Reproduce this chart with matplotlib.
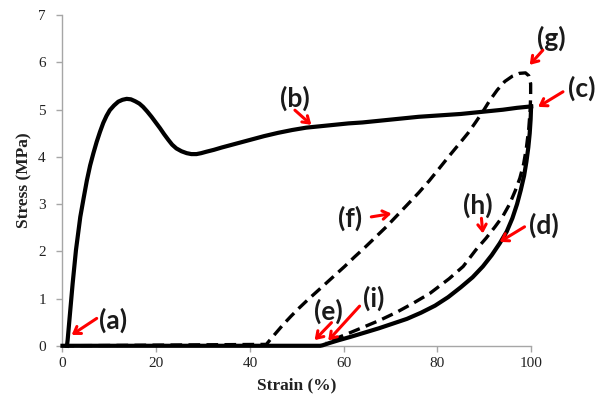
import matplotlib
matplotlib.use("Agg")
import matplotlib.pyplot as plt

# ---- data ----
# cycle 1 loading (solid)
load1_x = [0.95, 1.1, 1.67, 2.17, 2.88, 3.8, 4.5, 5.2, 5.9, 6.6, 7.3, 8.0, 8.7, 9.4, 10.1,
           11.0, 11.9, 12.8, 13.7, 14.6, 15.5, 16.4, 17.2, 18.1, 19.0, 19.9, 20.8, 21.7,
           22.6, 23.4, 24.3, 25.4, 26.5, 27.5, 28.6, 29.6, 30.7, 32.3, 34.0, 37.0, 40.0,
           43.0, 46.0, 49.0, 52.0, 55.0, 58.0, 61.0, 64.0, 67.0, 70.0, 73.0, 76.0, 79.0,
           82.0, 85.0, 88.0, 91.0, 94.0, 97.0, 100.0]
load1_y = [0.0, 0.12, 0.76, 1.32, 2.03, 2.73, 3.12, 3.5, 3.82, 4.08, 4.32, 4.53, 4.72, 4.87,
           4.99, 5.09, 5.17, 5.21, 5.23, 5.22, 5.18, 5.13, 5.06, 4.96, 4.85, 4.73, 4.61,
           4.48, 4.36, 4.26, 4.18, 4.12, 4.08, 4.06, 4.06, 4.08, 4.11, 4.15, 4.2, 4.28,
           4.36, 4.44, 4.51, 4.57, 4.62, 4.65, 4.68, 4.71, 4.73, 4.76, 4.79, 4.82, 4.85,
           4.87, 4.89, 4.91, 4.94, 4.97, 5.0, 5.04, 5.07]
# cycle 1 unloading (solid)
unload1_x = [100.0, 99.9, 99.7, 99.4, 99.0, 98.5, 97.8, 97.0, 96.0, 94.8, 93.3, 91.6, 89.7,
             87.5, 85.0, 82.3, 79.5, 76.5, 73.5, 70.5, 67.5, 64.5, 61.5, 59.0, 57.0, 55.5,
             55.0, 0.0]
unload1_y = [5.07, 4.8, 4.5, 4.2, 3.9, 3.6, 3.3, 3.0, 2.7, 2.42, 2.17, 1.92, 1.68,
             1.45, 1.24, 1.03, 0.85, 0.70, 0.57, 0.47, 0.37, 0.28, 0.19, 0.12, 0.06, 0.01,
             0.0, 0.0]
# cycle 2 (dashed): loading then unloading
cyc2_x = [0.0, 43.5, 44.5, 45.8, 47.1, 48.8, 50.5, 52.3, 54.2, 56.2, 58.2, 60.2, 62.3,
          64.5, 66.8, 69.1, 71.4, 73.7, 76.0, 78.3, 80.5, 82.6, 84.6, 86.5, 88.2, 89.7,
          91.2, 92.8, 94.4, 96.0, 97.5, 98.8, 99.5, 99.9, 99.9, 99.8, 99.5, 99.0, 98.4,
          97.6, 96.6, 95.4, 94.0, 92.3, 90.4, 88.2, 85.5, 82.5, 78.4, 74.8, 71.3, 67.7,
          64.1, 61.2, 58.5, 56.3]
cyc2_y = [0.0, 0.03, 0.15, 0.3, 0.45, 0.63, 0.8, 0.97, 1.14, 1.32, 1.5, 1.68, 1.88,
          2.08, 2.3, 2.52, 2.76, 3.0, 3.24, 3.5, 3.77, 4.03, 4.27, 4.5, 4.74, 4.96,
          5.2, 5.42, 5.6, 5.71, 5.77, 5.78, 5.72, 5.55, 5.3, 5.0, 4.6, 4.2, 3.85,
          3.55, 3.28, 3.0, 2.75, 2.52, 2.28, 2.03, 1.68, 1.42, 1.11, 0.9, 0.71, 0.54,
          0.39, 0.27, 0.16, 0.06]

labels = ["(a)", "(b)", "(c)", "(d)", "(e)", "(f)", "(g)", "(h)", "(i)"]
label_x = [10.8, 49.6, 110.7, 102.7, 56.7, 61.4, 104.3, 88.7, 66.4]
label_y = [0.54, 5.24, 5.45, 2.56, 0.72, 2.70, 6.51, 2.98, 1.0]
arrow_tail_x = [7.3, 49.6, 106.8, 98.6, 57.4, 65.9, 102.5, 89.4, 63.4]
arrow_tail_y = [0.58, 4.99, 5.38, 2.52, 0.49, 2.73, 6.26, 2.70, 0.84]
arrow_head_x = [1.96, 53.1, 101.5, 93.3, 53.8, 70.2, 99.7, 89.7, 56.7]
arrow_head_y = [0.23, 4.68, 5.06, 2.20, 0.12, 2.80, 5.95, 2.38, 0.11]

x_ticks = [0, 20, 40, 60, 80, 100]
y_ticks = [0, 1, 2, 3, 4, 5, 6, 7]

# ---- figure ----
fig = plt.figure(figsize=(6.09, 3.97), dpi=100)
ax = fig.add_axes([0.1026, 0.129, 0.7695, 0.8325])

ax.plot(load1_x, load1_y, color="black", lw=3.0, clip_on=False, zorder=3,
        solid_joinstyle="round")
ax.plot(unload1_x, unload1_y, color="black", lw=3.0, clip_on=False, zorder=3,
        solid_joinstyle="round")
ax.plot(cyc2_x, cyc2_y, color="black", lw=2.4, ls=(0, (3.5, 1.9)), clip_on=False, zorder=4)

ax.set_xlim(0, 100)
ax.set_ylim(0, 7)
ax.set_xticks(x_ticks)
ax.set_yticks(y_ticks)

for s in ["top", "right"]:
    ax.spines[s].set_visible(False)
for s in ["left", "bottom"]:
    ax.spines[s].set_color("#a6a6a6")
    ax.spines[s].set_linewidth(1.0)

ax.tick_params(axis="both", direction="out", color="#a6a6a6", length=4, width=1,
               labelsize=11, labelcolor="#222222")
ax.tick_params(axis="y", pad=8)
ax.tick_params(axis="x", pad=4)
for lab in ax.get_xticklabels() + ax.get_yticklabels():
    lab.set_family("Liberation Serif")

fig.text(0.4873, 0.028, "Strain (%)", family="Liberation Serif", fontweight="bold",
         fontsize=12.5, ha="center", va="center", color="#222222")
fig.text(0.040, 0.546, "Stress (MPa)", family="Liberation Serif", fontweight="bold",
         fontsize=12.5, ha="center", va="center", rotation=90, color="#222222")

for t, tx, ty, ax0, ay0, hx, hy in zip(labels, label_x, label_y, arrow_tail_x, arrow_tail_y,
                                      arrow_head_x, arrow_head_y):
    ax.text(tx, ty, t, family="Lato", fontweight="bold", fontsize=19, ha="center",
            va="center", color="#1a1a1a", clip_on=False, zorder=6)
    ax.annotate("", xy=(hx, hy), xytext=(ax0, ay0), annotation_clip=False,
                arrowprops=dict(arrowstyle="->,head_length=0.45,head_width=0.3",
                                color="#ff0000", lw=2.2, shrinkA=0, shrinkB=0), zorder=7)

fig.savefig("out.png", dpi=100)
